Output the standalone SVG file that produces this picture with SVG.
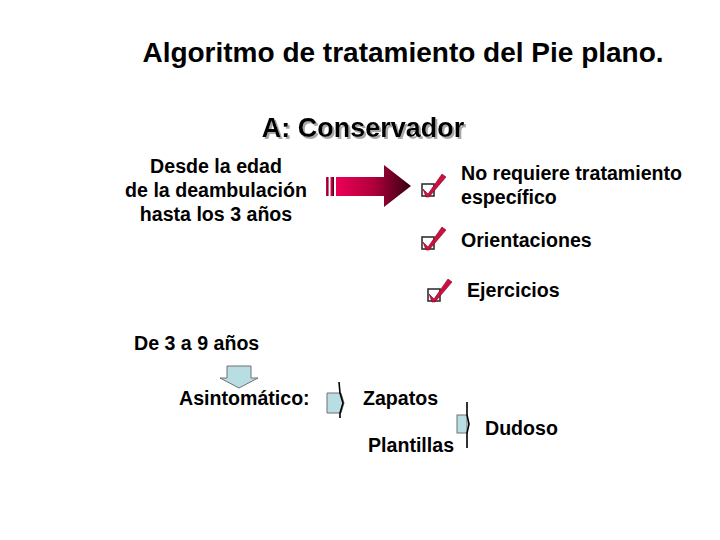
<svg xmlns="http://www.w3.org/2000/svg" width="720" height="540" viewBox="0 0 720 540">
<style>
.t{font-family:"Liberation Sans",Arial,sans-serif;font-weight:bold;fill:#000;font-size:19.6px}
.title{font-size:28px}
.h{font-size:27px}
.blue{fill:#b8dde3;stroke:#707070;stroke-width:1}
.ln{fill:none;stroke:#000;stroke-width:1.6}
</style>
<defs>
<filter id="shadow" x="-10%" y="-20%" width="120%" height="150%">
<feOffset in="SourceAlpha" dx="2" dy="2" result="o"/>
<feFlood flood-color="#a8a8a8"/>
<feComposite in2="o" operator="in" result="s"/>
<feMerge><feMergeNode in="s"/><feMergeNode in="SourceGraphic"/></feMerge>
</filter>
<linearGradient id="g" x1="0" y1="0" x2="1" y2="0">
<stop offset="0" stop-color="#ee0058"/>
<stop offset="0.5" stop-color="#b0003c"/>
<stop offset="1" stop-color="#350010"/>
</linearGradient>
<g id="check">
<rect x="0" y="0" width="12" height="12" fill="#fff" stroke="#333" stroke-width="1.6"/>
<path d="M1,5 L6,10 L20,-10 L24,-7 L7,13 L4,13 Z" fill="#cc1040" stroke="#7a0020" stroke-width="0.6"/>
</g>
</defs>
<rect width="720" height="540" fill="#fff"/>
<text class="t title" x="403" y="62" text-anchor="middle">Algoritmo de tratamiento del Pie plano.</text>
<g id="heading">
<text class="t h" x="363" y="137" text-anchor="middle" filter="url(#shadow)">A: Conservador</text>
</g>
<g id="edad">
<text class="t" x="216" y="173" text-anchor="middle">Desde la edad</text>
<text class="t" x="216" y="197" text-anchor="middle">de la deambulación</text>
<text class="t" x="216" y="221" text-anchor="middle">hasta los 3 años</text>
</g>
<g id="connectors">
<rect x="326" y="177" width="2.5" height="19" fill="url(#g)"/>
<rect x="330.5" y="177" width="3.5" height="19" fill="url(#g)"/>
<path d="M336,177 L384,177 L384,165 L411,186 L384,207 L384,196 L336,196 Z" fill="url(#g)"/>
<polygon class="blue" points="227,366 251,366 251,378 258,378 239,388 220,378 227,378"/>
<polygon class="blue" points="327,393 341,393 344,403 341,413 327,413"/>
<polyline class="ln" points="339,382 340,393 343,403 340,413 340,418"/>
<rect class="blue" x="457" y="415" width="10" height="18"/>
<polyline class="ln" points="467,402 467,415 469,424 467,433 467,448"/>
</g>
<g id="item1">
<use href="#check" x="422" y="184"/>
<text class="t" x="461" y="180">No requiere tratamiento</text>
<text class="t" x="461" y="204">específico</text>
</g>
<g id="item2">
<use href="#check" x="422" y="237"/>
<text class="t" x="461" y="247">Orientaciones</text>
</g>
<g id="item3">
<use href="#check" x="428" y="289"/>
<text class="t" x="467" y="297">Ejercicios</text>
</g>
<g id="edad2"><text class="t" x="134" y="350">De 3 a 9 años</text></g>
<g id="asint"><text class="t" x="179" y="405">Asintomático:</text></g>
<g id="zapatos"><text class="t" x="363" y="405">Zapatos</text></g>
<g id="plantillas"><text class="t" x="368" y="452">Plantillas</text></g>
<g id="dudoso"><text class="t" x="485" y="435">Dudoso</text></g>
</svg>
